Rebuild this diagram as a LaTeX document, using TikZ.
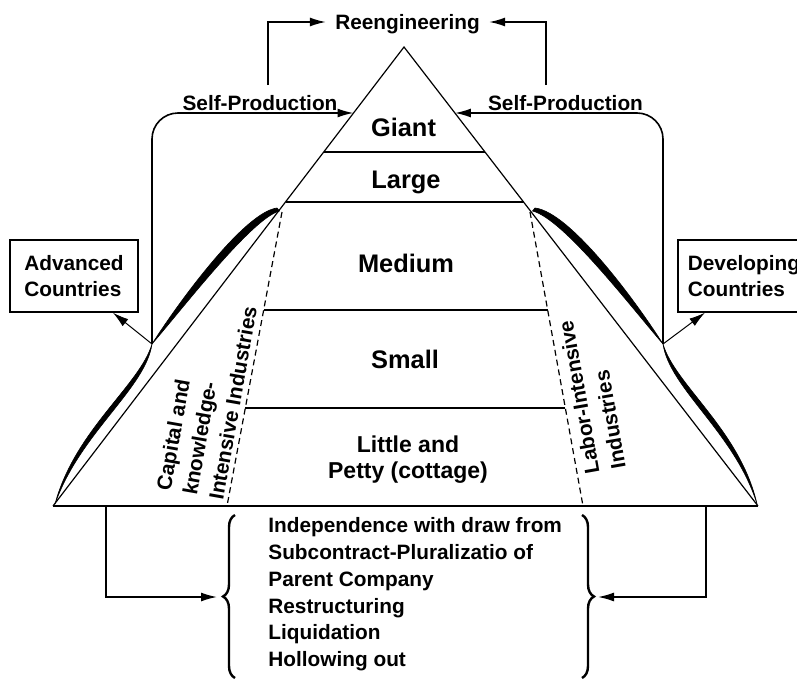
\documentclass[tikz,border=0pt]{standalone}
\usepackage{fontspec}
\setmainfont{Liberation Sans}
\usetikzlibrary{arrows.meta,decorations.pathreplacing}

\begin{document}
\begin{tikzpicture}[x=0.5pt,y=-0.5pt,
  side/.style={line width=0.6pt},
  tier/.style={line width=0.95pt},
  divider/.style={line width=0.6pt, dash pattern=on 3pt off 2pt},
  link/.style={line width=0.8pt, -{Latex[length=8pt,width=4.5pt]}},
  feeder/.style={line width=0.5pt, -{Latex[length=8pt,width=4.5pt]}},
  swoosh/.style={fill=black, draw=black, line width=0.3pt, line join=round},
  txt/.style={font=\bfseries\fontsize{10.4}{13.35}\selectfont, inner sep=0pt},
  oneline/.style={txt, text height=7.45pt, text depth=0pt},
  level/.style={font=\bfseries\fontsize{12.7}{15}\selectfont, inner sep=0pt,
                text height=9.09pt, text depth=0pt},
  country/.style={txt, draw, line width=0.9pt, align=left, minimum height=35.75pt},
  curly/.style={decorate, decoration={brace, amplitude=6pt}, line width=1.2pt},
]
\useasboundingbox (0,0) rectangle (797,680);

% --- key points of the pyramid and its surroundings
\coordinate (apex)  at (404,47);
\coordinate (baseL) at (53,506);
\coordinate (baseR) at (758,506);
\coordinate (kinkL) at (152,344);
\coordinate (kinkR) at (663,344);
\coordinate (swL)   at (277,208);
\coordinate (swR)   at (535,208);
\coordinate (footL) at (55,504);
\coordinate (footR) at (757,504);
\coordinate (hitL)  at (353.5,113);
\coordinate (hitR)  at (454.9,113);
\coordinate (divLt) at (282,212);
\coordinate (divLb) at (227,506);
\coordinate (divRt) at (530,212);
\coordinate (divRb) at (583,506);
\coordinate (dropL) at (106,506);
\coordinate (dropR) at (706,506);
\coordinate (braceL) at (217,597);
\coordinate (braceR) at (598,597);

% --- pyramid outline and tiers
\draw[side] (baseL) -- (apex) -- (baseR);
\draw[tier] (baseL) -- (baseR);
\draw[tier] (323.7,152) -- (485,152);
\draw[tier] (285.5,202) -- (523.5,202);
\draw[tier] (263.7,310) -- (547.7,310);
\draw[tier] (245.3,408) -- (565.3,408);
\draw[divider] (divLt) -- (divLb);
\draw[divider] (divRt) -- (divRb);

% --- tapered strokes along the flanks (blunt head at the top, thin at the ends)
\draw[swoosh] (swL) .. controls (245,212) and (180,300) .. (kinkL)
              .. controls (185.5,305) and (252,218.5) .. (279.5,211) -- cycle;
\draw[swoosh] (kinkL) .. controls (140,385) and (75,430) .. (footL)
              .. controls (80,433) and (145.5,388.5) .. (kinkL) -- cycle;
\draw[swoosh] (swR) .. controls (570,212) and (635,300) .. (kinkR)
              .. controls (629.5,305) and (563,218.5) .. (532.5,211) -- cycle;
\draw[swoosh] (kinkR) .. controls (675,385) and (740,430) .. (footR)
              .. controls (735,433) and (669.5,388.5) .. (kinkR) -- cycle;

% --- labels
\node[oneline, inner xsep=4.5pt] (reeng) at (407.5,22) {Reengineering};
\node[oneline] (spL) at (260,103) {Self-Production};
\node[oneline] (spR) at (565.5,103) {Self-Production};
\node[level] (giant)  at (403.5,127) {Giant};
\node[level] (large)  at (406,179) {Large};
\node[level] (medium) at (406,263) {Medium};
\node[level] (small)  at (405,359) {Small};
\node[txt, font=\bfseries\fontsize{11.5}{13}\selectfont, align=center] (little)
  at (408,460) {Little and\\Petty (cottage)};
\node[txt, align=left, rotate=80, anchor=west] (capital) at (189.5,495)
  {Capital and\\knowledge-\\Intensive Industries};
\node[txt, align=left, rotate=100, anchor=west] (labor) at (605.5,471.5)
  {Labor-Intensive\\Industries};
\node[txt, align=left, anchor=west] (outcomes) at (268,594.4)
  {Independence with draw from\\Subcontract-Pluralizatio of\\Parent Company\\Restructuring\\Liquidation\\Hollowing out};
\node[country, minimum width=64pt] (adv) at (74,276) {Advanced\\Countries};
\node[country, inner xsep=5pt, anchor=west] (dev) at (677,276) {Developing\\Countries};

% --- connectors
\draw[link, rounded corners=13pt] (kinkL) |- (hitL);
\draw[link, rounded corners=13pt] (kinkR) |- (hitR);
\draw[link] ([xshift=4pt,yshift=5pt]spL.north) |- (reeng.west);
\draw[link] ([xshift=-9.75pt,yshift=5pt]spR.north) |- (reeng.east);
\draw[feeder] (kinkL) -- ([xshift=-13pt]adv.south east);
\draw[feeder] (kinkR) -- ([xshift=14pt]dev.south west);
\draw[link] (dropL) |- (braceL);
\draw[link] (dropR) |- (braceR);

% --- braces around the outcome list
\draw[curly] (235,678) -- (235,515);
\draw[curly] (582,515) -- (582,678);
\end{tikzpicture}
\end{document}
